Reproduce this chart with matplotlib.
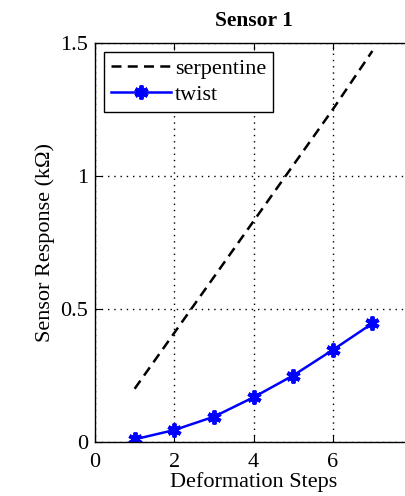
import matplotlib
matplotlib.use("Agg")
import matplotlib.pyplot as plt

steps = [1, 2, 3, 4, 5, 6, 7]
serpentine = [0.20, 0.41, 0.62, 0.83, 1.04, 1.25, 1.47]
twist = [0.01, 0.045, 0.095, 0.168, 0.25, 0.346, 0.446]
xticks = [0, 2, 4, 6]
yticks = [0, 0.5, 1, 1.5]
ytick_labels = ["0", "0.5", "1", "1.5"]

plt.rcParams['font.family'] = ['Liberation Serif', 'DejaVu Serif']

fig = plt.figure(figsize=(4.05, 4.96), dpi=100)
ax = fig.add_axes([95/405, 54/496, 317/405, 399/496])

ax.plot(steps, serpentine, linestyle=(0, (4, 2.5)), color='black', linewidth=1.8, label='serpentine')
ax.plot(steps, twist, color='#0000ff', linewidth=1.8, marker=(6, 2, 0), markersize=10,
        markeredgewidth=2.8, label='twist')

ax.set_xlim(0, 8)
ax.set_ylim(0, 1.5)
ax.set_xticks(xticks)
ax.set_yticks(yticks)
ax.set_yticklabels(ytick_labels)
ax.tick_params(direction='in', length=5, labelsize=16, top=True, right=True)
ax.tick_params(axis='x', pad=8)
ax.tick_params(axis='y', pad=5)
ax.grid(True, linestyle=(0, (1, 3.5)), color='black', linewidth=1.0)
for s in ax.spines.values():
    s.set_linewidth(1.0)

ax.set_xlabel('Deformation Steps', fontsize=16, labelpad=0)
ax.set_ylabel('Sensor Response (k\u03a9)', fontsize=16, labelpad=4)
ax.set_title('Sensor 1', fontsize=15.5, fontweight='bold', pad=12)

leg = ax.legend(loc='upper left', fontsize=16, fancybox=False, framealpha=1,
                edgecolor='black', borderaxespad=0.4, handlelength=2.7,
                handletextpad=0.2, borderpad=0.3, labelspacing=0.25)
leg.get_frame().set_linewidth(1.0)

fig.savefig('out.png', dpi=100)
